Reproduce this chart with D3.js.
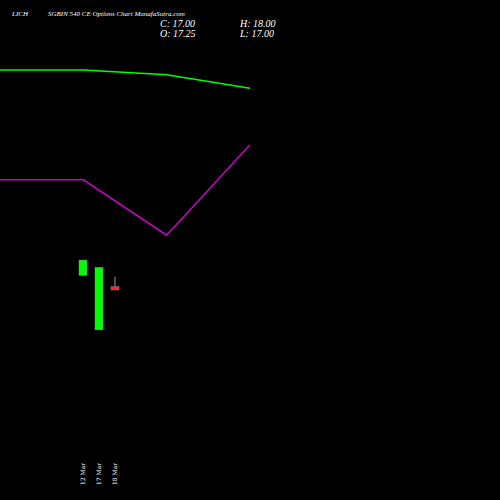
<!DOCTYPE html>
<html><head><meta charset="utf-8">
<script src="https://cdn.jsdelivr.net/npm/d3@7"></script>
<style>body{margin:0;background:#000}</style></head>
<body><svg id="chart" width="500" height="500"></svg>
<script>
// Candle data
const dates = ['12 Mar', '17 Mar', '18 Mar'];
const opens = [18.1, 14.0, 17.25];
const closes = [19.25, 18.7, 17.0];
const highs = [19.25, 18.7, 18.0];
const lows = [18.1, 14.0, 17.0];

// Overlay line data
const linePoints = [0, 1, 2, 3];
const greenLine = [94.3, 94.3, 92.9, 89.1];
const purpleLine = [62.9, 62.9, 47.1, 72.9];

const svg = d3.select('#chart');
svg.append('rect').attr('width', 500).attr('height', 500).attr('fill', '#000');

// Scales
const xc = d3.scalePoint().domain(dates).range([83, 115]);
const yc = d3.scaleLinear().domain([17, 18]).range([290, 276.7]);
const xl = d3.scaleLinear().domain([0, 3]).range([0, 250]);
const yl = d3.scaleLinear().domain([0, 100]).range([400, 50]);

const line = d3.line().x((d, i) => xl(linePoints[i])).y(d => yl(d));
svg.append('path').attr('d', line(greenLine)).attr('fill', 'none').attr('stroke', '#00ff00').attr('stroke-width', 1.5);
svg.append('path').attr('d', line(purpleLine)).attr('fill', 'none').attr('stroke', '#cc00cc').attr('stroke-width', 1.5);

// Candles
dates.forEach((d, i) => {
    const up = closes[i] >= opens[i];
    const col = up ? '#00ff00' : '#ff2020';
    svg.append('line').attr('x1', xc(d)).attr('x2', xc(d))
        .attr('y1', yc(highs[i])).attr('y2', yc(lows[i])).attr('stroke', '#999');
    const top = yc(Math.max(opens[i], closes[i]));
    const bot = yc(Math.min(opens[i], closes[i]));
    svg.append('rect').attr('x', xc(d) - 4).attr('width', 8)
        .attr('y', top).attr('height', Math.max(bot - top, 2))
        .attr('fill', col).attr('stroke', '#888').attr('stroke-width', 0.5);
    svg.append('text').attr('transform', `translate(${xc(d) + 2},485) rotate(-90)`)
        .attr('fill', '#fff').attr('font-family', 'DejaVu Serif').attr('font-size', 6).text(d);
});

// Header text
const font = 'Liberation Serif';
svg.append('text').attr('x', 12).attr('y', 16).attr('fill', '#fff').attr('font-family', font)
    .attr('font-style', 'italic').attr('font-size', 7).text('LICH');
svg.append('text').attr('x', 48).attr('y', 16).attr('fill', '#fff').attr('font-family', font)
    .attr('font-style', 'italic').attr('font-size', 7).text('SGBIN 540  CE Options  Chart MunafaSutra.com');
[['C: 17.00', 160, 27], ['O: 17.25', 160, 37], ['H: 18.00', 240, 27], ['L: 17.00', 240, 37]].forEach(t => {
    svg.append('text').attr('x', t[1]).attr('y', t[2]).attr('fill', '#fff').attr('font-family', font)
        .attr('font-style', 'italic').attr('font-size', 10).text(t[0]);
});
</script></body></html>
